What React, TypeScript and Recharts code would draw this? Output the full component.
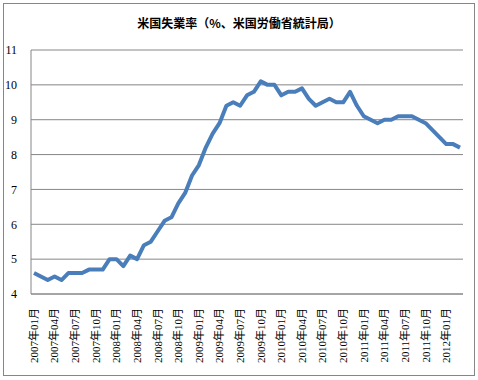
import { CartesianGrid, Line, LineChart, XAxis, YAxis } from 'recharts';

const years = [2007, 2008, 2009, 2010, 2011, 2012];
const rate2007 = [4.6, 4.5, 4.4, 4.5, 4.4, 4.6, 4.6, 4.6, 4.7, 4.7, 4.7, 5.0];
const rate2008 = [5.0, 4.8, 5.1, 5.0, 5.4, 5.5, 5.8, 6.1, 6.2, 6.6, 6.9, 7.4];
const rate2009 = [7.7, 8.2, 8.6, 8.9, 9.4, 9.5, 9.4, 9.7, 9.8, 10.1, 10.0, 10.0];
const rate2010 = [9.7, 9.8, 9.8, 9.9, 9.6, 9.4, 9.5, 9.6, 9.5, 9.5, 9.8, 9.4];
const rate2011 = [9.1, 9.0, 8.9, 9.0, 9.0, 9.1, 9.1, 9.1, 9.0, 8.9, 8.7, 8.5];
const rate2012 = [8.3, 8.3, 8.2];
const yTicks = [4, 5, 6, 7, 8, 9, 10, 11];

const rates = [rate2007, rate2008, rate2009, rate2010, rate2011, rate2012];

const data = rates.flatMap((list, i) =>
  list.map((rate, m) => ({
    month: `${years[i]}年${String(m + 1).padStart(2, '0')}月`,
    rate,
  })),
);

const serif = '"Liberation Serif", "DejaVu Serif", "Noto Sans CJK JP", serif';

function MonthTick({ x, y, payload }: any) {
  return (
    <g transform={`translate(${x},${y + 6}) rotate(-90)`}>
      <text textAnchor="end" dy="0.35em" fontSize={11} fontFamily={serif} fill="#000">
        {payload.value}
      </text>
    </g>
  );
}

export default function App() {
  return (
    <div style={{ position: 'absolute', left: 0, top: 0, width: 478, height: 380, background: '#fff' }}>
      <div
        style={{
          position: 'absolute',
          left: 3,
          top: 3,
          width: 470,
          height: 371,
          border: '1px solid #868686',
        }}
      />
      <div
        style={{
          position: 'absolute',
          left: 0,
          top: 14,
          width: 478,
          textAlign: 'center',
          fontFamily: '"Noto Sans CJK JP", sans-serif',
          fontWeight: 'bold',
          fontSize: 12,
          color: '#000',
        }}
      >
        米国失業率（%、米国労働省統計局）
      </div>
      <div style={{ position: 'absolute', left: 0, top: 0 }}>
        <LineChart width={478} height={380} data={data} margin={{ top: 50, right: 15, bottom: 6, left: 0 }}>
          <CartesianGrid vertical={false} stroke="#868686" />
          <XAxis
            dataKey="month"
            interval={2}
            height={80}
            tickLine={false}
            axisLine={{ stroke: '#868686' }}
            padding={{ left: 3, right: 3 }}
            tick={<MonthTick />}
          />
          <YAxis
            width={31}
            domain={[4, 11]}
            ticks={yTicks}
            tickLine={false}
            axisLine={{ stroke: '#868686' }}
            tick={{ fontSize: 12, fontFamily: serif, fill: '#000' }}
            tickMargin={8}
          />
          <Line
            type="linear"
            dataKey="rate"
            stroke="#4A7EBB"
            strokeWidth={4}
            dot={false}
            strokeLinejoin="round"
            isAnimationActive={false}
          />
        </LineChart>
      </div>
    </div>
  );
}
